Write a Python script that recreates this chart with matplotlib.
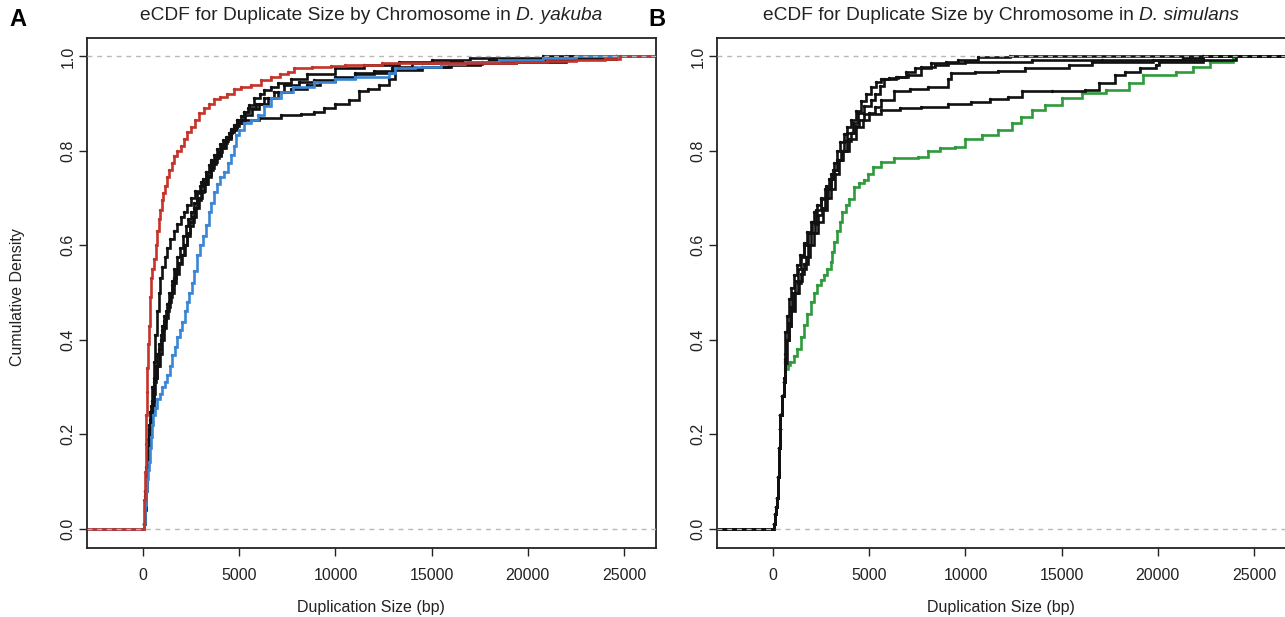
import matplotlib
matplotlib.use('Agg')
import matplotlib.pyplot as plt

plt.rcParams['font.family'] = ['Liberation Sans', 'DejaVu Sans']

# ---------------- Panel A: D. yakuba ----------------
a_red_x = [30, 60, 90, 120, 150, 180, 210, 250, 290, 340, 400, 470, 550, 640, 720, 800, 880, 960, 1050, 1150,
           1250, 1350, 1480, 1620, 1780, 1950, 2120, 2300, 2480, 2680, 2900, 3150, 3400, 3700, 4000, 4350, 4700,
           5100, 5600, 6100, 6650, 7100, 7520, 7850, 8800, 9790, 10500, 12400, 15000, 19400, 21000, 22500, 24000,
           24800]
a_red_y = [0.01, 0.06, 0.12, 0.18, 0.24, 0.29, 0.34, 0.39, 0.43, 0.49, 0.53, 0.55, 0.57, 0.60, 0.63, 0.655, 0.675,
           0.695, 0.71, 0.725, 0.745, 0.76, 0.775, 0.79, 0.80, 0.81, 0.825, 0.84, 0.85, 0.865, 0.88, 0.89, 0.90,
           0.91, 0.915, 0.92, 0.93, 0.935, 0.94, 0.95, 0.957, 0.962, 0.968, 0.975, 0.977, 0.979, 0.981, 0.985,
           0.987, 0.989, 0.990, 0.992, 0.995, 1.0]

a_blue_x = [40, 70, 100, 140, 190, 230, 280, 340, 400, 450, 520, 600, 720, 850, 1000, 1150, 1250, 1380, 1500, 1640,
            1780, 1900, 2030, 2150, 2280, 2400, 2520, 2650, 2810, 2950, 3100, 3250, 3400, 3550, 3690, 3850, 4000,
            4200, 4400, 4550, 4700, 4820, 5000, 5250, 5600, 5950, 6300, 6650, 7170, 7800, 8900, 10000, 11000,
            12770, 13100, 14150, 15500, 16750, 18500, 20800, 22500]
a_blue_y = [0.01, 0.03, 0.05, 0.08, 0.106, 0.125, 0.141, 0.17, 0.195, 0.219, 0.24, 0.255, 0.275, 0.285, 0.30, 0.311,
            0.325, 0.345, 0.367, 0.385, 0.405, 0.42, 0.438, 0.46, 0.48, 0.50, 0.52, 0.545, 0.579, 0.60, 0.62, 0.643,
            0.67, 0.69, 0.713, 0.73, 0.745, 0.756, 0.775, 0.791, 0.81, 0.833, 0.845, 0.858, 0.866, 0.876, 0.895,
            0.911, 0.925, 0.935, 0.946, 0.952, 0.957, 0.964, 0.975, 0.978, 0.983, 0.989, 0.993, 0.997, 1.0]

a_k1_x = [40, 70, 100, 150, 200, 280, 370, 450, 540, 630, 720, 800, 890, 1000, 1120, 1260, 1410, 1580, 1760, 1940,
          2110, 2300, 2500, 2700, 2980, 3250, 3510, 3770, 4030, 4300, 4550, 4900, 5250, 5500, 5770, 6050, 6300,
          6650, 7000, 7700, 8500, 9950, 11500, 13300, 15000, 17000, 20800]
a_k1_y = [0.01, 0.04, 0.08, 0.13, 0.17, 0.21, 0.247, 0.30, 0.353, 0.41, 0.46, 0.50, 0.53, 0.555, 0.575, 0.595, 0.614,
          0.63, 0.645, 0.66, 0.671, 0.685, 0.70, 0.715, 0.734, 0.755, 0.777, 0.79, 0.805, 0.825, 0.847, 0.865, 0.883,
          0.897, 0.911, 0.92, 0.929, 0.936, 0.943, 0.953, 0.962, 0.975, 0.982, 0.989, 0.993, 0.996, 1.0]

a_k2_x = [40, 70, 100, 150, 200, 250, 300, 400, 520, 630, 740, 850, 960, 1060, 1170, 1280, 1390, 1500, 1610, 1720,
          1830, 1940, 2110, 2280, 2450, 2630, 2800, 2980, 3160, 3340, 3510, 3680, 3850, 4030, 4200, 4380, 4550,
          4720, 4900, 5080, 5250, 5430, 5850, 6300, 6800, 7330, 8100, 8900, 10000, 11000, 12930, 14500, 15900,
          17500, 19400, 22000, 24600]
a_k2_y = [0.01, 0.04, 0.07, 0.11, 0.15, 0.19, 0.22, 0.25, 0.285, 0.318, 0.345, 0.37, 0.40, 0.424, 0.445, 0.47, 0.49,
          0.515, 0.53, 0.545, 0.562, 0.579, 0.60, 0.625, 0.65, 0.678, 0.695, 0.712, 0.73, 0.749, 0.763, 0.777, 0.791,
          0.805, 0.817, 0.83, 0.842, 0.854, 0.865, 0.874, 0.882, 0.89, 0.90, 0.911, 0.925, 0.94, 0.945, 0.95, 0.957,
          0.964, 0.975, 0.978, 0.982, 0.985, 0.989, 0.994, 1.0]

a_k3_x = [50, 80, 120, 180, 250, 350, 450, 560, 680, 800, 900, 1000, 1100, 1200, 1330, 1450, 1580, 1700, 1850, 2000,
          2150, 2300, 2450, 2600, 2750, 2900, 3050, 3200, 3350, 3500, 3650, 3800, 3950, 4100, 4250, 4400, 4550,
          4700, 4900, 5100, 5300, 5650, 6000, 6500, 7000, 7700, 8500, 9200, 10000, 11000, 12000, 13000, 14000,
          16000, 18000, 22000]
a_k3_y = [0.01, 0.04, 0.08, 0.13, 0.18, 0.23, 0.27, 0.31, 0.345, 0.38, 0.40, 0.42, 0.44, 0.46, 0.48, 0.50, 0.52,
          0.54, 0.56, 0.58, 0.60, 0.62, 0.64, 0.66, 0.68, 0.70, 0.715, 0.73, 0.745, 0.76, 0.772, 0.785, 0.797, 0.81,
          0.82, 0.83, 0.84, 0.85, 0.858, 0.866, 0.875, 0.888, 0.90, 0.912, 0.925, 0.932, 0.94, 0.948, 0.955, 0.962,
          0.97, 0.978, 0.985, 0.989, 0.993, 1.0]

a_k4_x = [40, 70, 100, 150, 200, 300, 400, 550, 700, 800, 900, 1000, 1100, 1230, 1350, 1480, 1600, 1750, 1900, 2050,
          2200, 2350, 2500, 2650, 2800, 2950, 3100, 3250, 3400, 3550, 3700, 3850, 4000, 4150, 4300, 4450, 4600,
          4800, 5000, 5250, 6000, 7170, 8200, 8900, 9420, 9950, 10680, 11200, 11700, 12250, 12770, 13100, 14500,
          16000, 17640, 21000, 24600]
a_k4_y = [0.01, 0.04, 0.08, 0.12, 0.16, 0.21, 0.26, 0.32, 0.37, 0.39, 0.41, 0.43, 0.45, 0.475, 0.50, 0.525, 0.55,
          0.575, 0.595, 0.62, 0.64, 0.655, 0.67, 0.69, 0.71, 0.725, 0.74, 0.755, 0.77, 0.78, 0.792, 0.803, 0.815,
          0.822, 0.83, 0.838, 0.845, 0.852, 0.858, 0.865, 0.87, 0.876, 0.879, 0.883, 0.89, 0.90, 0.907, 0.926, 0.932,
          0.94, 0.953, 0.971, 0.978, 0.984, 0.989, 0.995, 1.0]

# ---------------- Panel B: D. simulans ----------------
b_green_x = [60, 100, 150, 190, 230, 280, 330, 370, 450, 540, 630, 760, 890, 1060, 1240, 1420, 1590, 1760, 1940,
             2110, 2290, 2460, 2630, 2800, 2980, 3070, 3160, 3300, 3450, 3600, 3770, 3940, 4200, 4470, 4730, 4950,
             5170, 5600, 6300, 7520, 8040, 8700, 9440, 9960, 10840, 11710, 12410, 12900, 13450, 14150, 15030,
             16070, 17290, 18520, 19210, 20950, 21830, 22710, 23930, 24080]
b_green_y = [0.01, 0.03, 0.045, 0.064, 0.11, 0.17, 0.21, 0.24, 0.28, 0.311, 0.339, 0.346, 0.353, 0.366, 0.381, 0.405,
             0.431, 0.455, 0.48, 0.50, 0.515, 0.526, 0.537, 0.55, 0.565, 0.585, 0.607, 0.63, 0.65, 0.671, 0.685,
             0.699, 0.724, 0.731, 0.738, 0.752, 0.766, 0.777, 0.784, 0.788, 0.80, 0.805, 0.809, 0.826, 0.833, 0.845,
             0.858, 0.872, 0.886, 0.897, 0.911, 0.922, 0.929, 0.943, 0.96, 0.968, 0.978, 0.989, 0.998, 1.0]

b_k1_x = [60, 100, 150, 190, 230, 280, 330, 370, 450, 540, 590, 630, 700, 800, 920, 1060, 1230, 1410, 1580, 1760,
          1940, 2110, 2280, 2460, 2720, 2980, 3140, 3300, 3490, 3680, 3850, 4030, 4290, 4550, 4800, 5080, 5350,
          5600, 6000, 6480, 6900, 7350, 8220, 9000, 9620, 10660, 12300]
b_k1_y = [0.01, 0.03, 0.045, 0.064, 0.11, 0.17, 0.21, 0.24, 0.28, 0.32, 0.37, 0.417, 0.45, 0.487, 0.51, 0.537, 0.558,
          0.579, 0.604, 0.628, 0.65, 0.671, 0.685, 0.699, 0.725, 0.75, 0.775, 0.80, 0.818, 0.835, 0.85, 0.865, 0.885,
          0.905, 0.92, 0.935, 0.945, 0.953, 0.955, 0.957, 0.966, 0.975, 0.985, 0.989, 0.992, 0.998, 1.0]

b_k2_x = [60, 100, 150, 190, 230, 280, 330, 370, 450, 540, 620, 700, 800, 950, 1100, 1280, 1450, 1620, 1800, 1980,
          2160, 2340, 2520, 2700, 2860, 3020, 3180, 3340, 3500, 3680, 3860, 4130, 4400, 4740, 5080, 5300, 5550,
          5780, 6400, 7000, 7700, 8400, 9090, 9960, 13450, 17120, 21310, 22360]
b_k2_y = [0.01, 0.03, 0.045, 0.064, 0.11, 0.17, 0.21, 0.24, 0.28, 0.31, 0.35, 0.40, 0.43, 0.465, 0.50, 0.52, 0.54,
          0.56, 0.60, 0.625, 0.645, 0.665, 0.68, 0.70, 0.72, 0.74, 0.76, 0.78, 0.80, 0.82, 0.837, 0.86, 0.88, 0.895,
          0.907, 0.92, 0.937, 0.953, 0.957, 0.96, 0.978, 0.982, 0.985, 0.989, 0.992, 0.993, 0.996, 1.0]

b_k3_x = [60, 100, 150, 190, 230, 280, 330, 370, 450, 540, 600, 650, 750, 870, 1000, 1150, 1300, 1450, 1600, 1800,
          2000, 2250, 2500, 2700, 2900, 3100, 3350, 3600, 3950, 4300, 4650, 5000, 5300, 5600, 6300, 7100, 8040,
          9090, 9270, 10500, 11710, 13080, 15400, 16600, 19740, 22360]
b_k3_y = [0.01, 0.03, 0.045, 0.064, 0.11, 0.17, 0.21, 0.24, 0.28, 0.31, 0.355, 0.40, 0.435, 0.47, 0.50, 0.525, 0.55,
          0.575, 0.60, 0.625, 0.65, 0.675, 0.70, 0.72, 0.74, 0.76, 0.78, 0.80, 0.825, 0.85, 0.865, 0.88, 0.893,
          0.907, 0.926, 0.93, 0.936, 0.953, 0.964, 0.967, 0.97, 0.975, 0.982, 0.989, 0.993, 1.0]

b_k4_x = [60, 100, 150, 190, 230, 280, 330, 370, 450, 540, 610, 680, 800, 950, 1150, 1330, 1520, 1700, 1900, 2120,
          2350, 2580, 2800, 3000, 3200, 3400, 3620, 3830, 4030, 4250, 4480, 4730, 5600, 6600, 7700, 9090, 10310,
          11300, 12230, 12930, 14500, 16230, 16930, 17800, 18320, 19100, 19890, 20070, 22360, 24080]
b_k4_y = [0.01, 0.03, 0.045, 0.064, 0.11, 0.17, 0.21, 0.24, 0.28, 0.31, 0.36, 0.40, 0.43, 0.46, 0.50, 0.525, 0.55,
          0.575, 0.60, 0.625, 0.65, 0.675, 0.70, 0.72, 0.75, 0.78, 0.80, 0.82, 0.837, 0.853, 0.866, 0.879, 0.886,
          0.89, 0.893, 0.90, 0.904, 0.909, 0.914, 0.926, 0.927, 0.929, 0.943, 0.96, 0.968, 0.975, 0.982, 0.989,
          0.992, 1.0]

x_ticks = [0, 5000, 10000, 15000, 20000, 25000]
y_ticks = [0.0, 0.2, 0.4, 0.6, 0.8, 1.0]
x_label = "Duplication Size (bp)"
y_label = "Cumulative Density"
title_plain = "eCDF for Duplicate Size by Chromosome in "
title_A_sp = "D. yakuba"
title_B_sp = "D. simulans"

RED = '#c4342b'
BLUE = '#3b86d4'
GREEN = '#2f9a3c'
BLACK = '#111111'
TXT = '#222222'

W, H = 1285, 617
fig = plt.figure(figsize=(W / 100, H / 100), dpi=100)


def add_ax(left, right, top, bottom):
    return fig.add_axes([left / W, 1 - bottom / H, (right - left) / W, (bottom - top) / H])


axA = add_ax(86.5, 656, 37.5, 547.5)
axB = add_ax(716.5, 1286, 37.5, 547.5)


def draw_ecdf(ax, xs, ys, color, lw=1.9):
    x0, x1 = ax.get_xlim()
    X = [x0] + list(xs) + [x1]
    Y = [0.0] + list(ys) + [ys[-1]]
    ax.plot(X, Y, drawstyle='steps-post', color=color, lw=lw, solid_joinstyle='miter', zorder=2)
    ax.plot(xs, ys, 'o', ms=1.4, color=color, zorder=2)


for ax in (axA, axB):
    ax.set_xlim(-2950, 26670)
    ax.set_ylim(-0.04, 1.04)

for xs, ys in [(a_k1_x, a_k1_y), (a_k2_x, a_k2_y), (a_k3_x, a_k3_y), (a_k4_x, a_k4_y)]:
    draw_ecdf(axA, xs, ys, BLACK)
draw_ecdf(axA, a_blue_x, a_blue_y, BLUE)
draw_ecdf(axA, a_red_x, a_red_y, RED)

draw_ecdf(axB, b_green_x, b_green_y, GREEN)
for xs, ys in [(b_k1_x, b_k1_y), (b_k2_x, b_k2_y), (b_k3_x, b_k3_y), (b_k4_x, b_k4_y)]:
    draw_ecdf(axB, xs, ys, BLACK)

for ax in (axA, axB):
    for h in (0.0, 1.0):
        ax.axhline(h, color='#b8b8b8', lw=1.0, ls=(0, (3.5, 3.5)), zorder=5)
    ax.set_xticks(x_ticks)
    ax.set_xticklabels([str(t) for t in x_ticks])
    ax.set_yticks(y_ticks)
    ax.set_yticklabels(['%.1f' % t for t in y_ticks], rotation=90, va='center')
    ax.tick_params(direction='out', length=6, width=1.0, labelsize=11.5, colors=TXT)
    ax.tick_params(axis='x', pad=9)
    ax.tick_params(axis='y', pad=2)
    for s in ax.spines.values():
        s.set_linewidth(1.3)
        s.set_color(TXT)
    ax.set_xlabel(x_label, fontsize=11.5, labelpad=12, color=TXT)

fig.text(18 / W, 1 - 297 / H, y_label, fontsize=11.5, rotation=90, ha='center', va='center', color=TXT)

fig.canvas.draw()
renderer = fig.canvas.get_renderer()


def two_part_title(ax, species):
    bb = ax.get_position()
    cx = (bb.x0 + bb.x1) / 2
    y = 1 - 16 / H
    t1 = fig.text(0, y, title_plain, fontsize=13.8, va='center', ha='left', color=TXT)
    t2 = fig.text(0, y, species, fontsize=13.8, va='center', ha='left', style='italic', color=TXT)
    w1 = t1.get_window_extent(renderer).width / W
    w2 = t2.get_window_extent(renderer).width / W
    start = cx - (w1 + w2) / 2
    t1.set_x(start)
    t2.set_x(start + w1)


two_part_title(axA, title_A_sp)
two_part_title(axB, title_B_sp)

fig.text(18 / W, 1 - 20 / H, 'A', fontsize=17, fontweight='bold', ha='center', va='center')
fig.text(657 / W, 1 - 20 / H, 'B', fontsize=17, fontweight='bold', ha='center', va='center')

fig.savefig('out.png', dpi=100)
